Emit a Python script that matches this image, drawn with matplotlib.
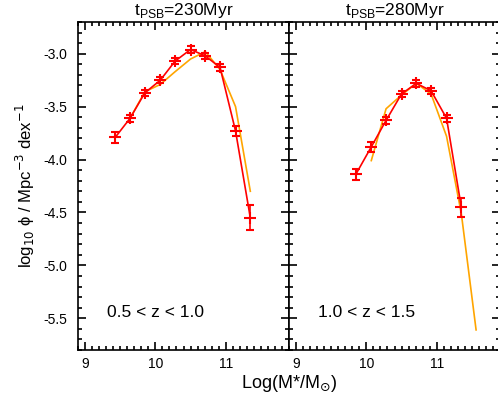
import matplotlib
matplotlib.use("Agg")
import matplotlib.pyplot as plt
from matplotlib.ticker import MultipleLocator

plt.rcParams['font.family'] = ['Liberation Sans', 'DejaVu Sans']

# Left panel: 0.5 < z < 1.0, t_PSB = 230 Myr
mass_left = [9.43, 9.64, 9.85, 10.07, 10.28, 10.50, 10.71, 10.92, 11.14, 11.35]
phi_left = [-3.79, -3.61, -3.37, -3.25, -3.07, -2.96, -3.02, -3.13, -3.73, -4.55]
err_left = [0.05, 0.035, 0.03, 0.03, 0.03, 0.03, 0.03, 0.03, 0.05, 0.12]
model_mass_left = [9.64, 9.85, 10.07, 10.28, 10.50, 10.71, 10.92, 11.14, 11.35]
model_phi_left = [-3.61, -3.36, -3.29, -3.17, -3.05, -2.98, -3.15, -3.50, -4.30]

# Right panel: 1.0 < z < 1.5, t_PSB = 280 Myr
mass_right = [9.85, 10.07, 10.28, 10.50, 10.71, 10.92, 11.14, 11.35]
phi_right = [-4.14, -3.88, -3.63, -3.38, -3.28, -3.35, -3.61, -4.45]
err_right = [0.055, 0.045, 0.035, 0.03, 0.03, 0.03, 0.035, 0.09]
model_mass_right = [10.07, 10.28, 10.50, 10.71, 10.92, 11.14, 11.35, 11.56]
model_phi_right = [-4.01, -3.52, -3.39, -3.28, -3.38, -3.78, -4.51, -5.61]

titles = [r"t$_{\mathregular{PSB}}$=230Myr", r"t$_{\mathregular{PSB}}$=280Myr"]
zlabels = ["0.5 < z < 1.0", "1.0 < z < 1.5"]

W, H = 498, 404
fig = plt.figure(figsize=(W / 100, H / 100), dpi=100)
ax_w = 211 / W
ax_h = (350 - 22) / H
ax_b = (H - 350) / H
axL = fig.add_axes([78 / W, ax_b, ax_w, ax_h])
axR = fig.add_axes([289 / W, ax_b, ax_w, ax_h])

red = '#ff0000'
orange = '#ffa500'

panels = [
    (axL, mass_left, phi_left, err_left, model_mass_left, model_phi_left),
    (axR, mass_right, phi_right, err_right, model_mass_right, model_phi_right),
]
for i, (ax, m, p, e, mm, mp) in enumerate(panels):
    ax.plot(mm, mp, color=orange, lw=1.2, zorder=2)
    ax.errorbar(m, p, yerr=e, color=red, lw=1.2, marker='+', ms=9, mew=1.5,
                capsize=3, elinewidth=1.2, capthick=1.2, zorder=3)
    ax.set_xlim(8.9, 11.9)
    ax.set_ylim(-5.8, -2.7)
    ax.xaxis.set_major_locator(MultipleLocator(1))
    ax.xaxis.set_minor_locator(MultipleLocator(0.1))
    ax.yaxis.set_major_locator(MultipleLocator(0.5))
    ax.yaxis.set_minor_locator(MultipleLocator(0.1))
    ax.tick_params(which='both', direction='in', top=True, right=True,
                   labelsize=10, width=1.2, colors='black')
    ax.tick_params(which='major', length=6)
    ax.tick_params(axis='x', which='major', pad=5)
    ax.tick_params(axis='y', which='major', pad=8)
    ax.tick_params(which='minor', length=3)
    for s in ax.spines.values():
        s.set_linewidth(1.2)
    ax.set_title(titles[i], fontsize=12.5, pad=5)
    ax.text(0.137, 0.113, zlabels[i], transform=ax.transAxes, fontsize=12.5,
            ha='left', va='center')
    ax.set_xticks([9, 10, 11])
    ax.set_xticklabels(['9', '10', '11'])

axL.set_yticks([-3.0, -3.5, -4.0, -4.5, -5.0, -5.5])
axL.set_yticklabels(['-3.0', '-3.5', '-4.0', '-4.5', '-5.0', '-5.5'])
axR.tick_params(axis='y', labelleft=False)
axL.set_ylabel("log$_{10}$ \u03d5 / Mpc$^{-3}$ dex$^{-1}$", fontsize=12, labelpad=4)
fig.text(289 / W, 1 - 384 / H, r"Log(M*/M$_{\odot}$)", fontsize=13,
         ha='center', va='center')

fig.savefig("out.png", dpi=100)
